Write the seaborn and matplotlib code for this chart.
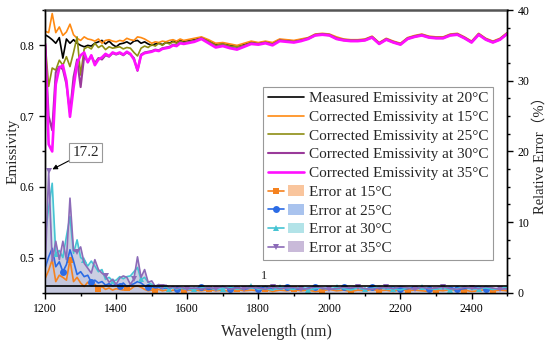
import numpy as np
import matplotlib
matplotlib.use('Agg')
import matplotlib.pyplot as plt
import seaborn as sns
from matplotlib.lines import Line2D
from matplotlib.patches import Patch
from matplotlib.legend_handler import HandlerTuple
from matplotlib.ticker import MultipleLocator

# wavelength grid (nm): 10 nm steps up to 1600, 20 nm steps after
wavelength = np.concatenate([np.arange(1200, 1601, 10), np.arange(1620, 2501, 20)])

# emissivity curves (left axis)
measured_20 = [0.815, 0.812, 0.808, 0.803, 0.811, 0.782, 0.809, 0.803, 0.808, 0.803,
               0.800, 0.798, 0.800, 0.799, 0.803, 0.805, 0.807, 0.802, 0.806, 0.801,
               0.798, 0.802, 0.803, 0.805, 0.802, 0.806, 0.807, 0.803, 0.805, 0.802,
               0.800, 0.802, 0.803, 0.801, 0.804, 0.803, 0.806, 0.804, 0.807, 0.805, 0.806,
               0.808, 0.811, 0.806, 0.801, 0.802, 0.800, 0.798, 0.801, 0.804, 0.803,
               0.805, 0.802, 0.808, 0.807, 0.806, 0.808, 0.810, 0.815, 0.816, 0.815,
               0.810, 0.808, 0.807, 0.807, 0.808, 0.812, 0.803, 0.809, 0.805, 0.802,
               0.810, 0.813, 0.815, 0.812, 0.811, 0.811, 0.815, 0.816, 0.811, 0.805,
               0.816, 0.809, 0.805, 0.809, 0.817]
corrected_15 = [0.820, 0.818, 0.845, 0.818, 0.826, 0.814, 0.819, 0.830, 0.815, 0.810,
                0.807, 0.812, 0.809, 0.808, 0.806, 0.809, 0.803, 0.807, 0.808, 0.806,
                0.805, 0.807, 0.806, 0.810, 0.808, 0.807, 0.812, 0.811, 0.809, 0.806,
                0.803, 0.805, 0.804, 0.806, 0.805, 0.807, 0.808, 0.806, 0.809, 0.807, 0.808,
                0.810, 0.812, 0.808, 0.803, 0.804, 0.802, 0.800, 0.803, 0.806, 0.804,
                0.806, 0.804, 0.809, 0.808, 0.807, 0.809, 0.811, 0.816, 0.817, 0.816,
                0.812, 0.809, 0.808, 0.808, 0.809, 0.813, 0.804, 0.810, 0.806, 0.803,
                0.811, 0.814, 0.816, 0.813, 0.812, 0.812, 0.816, 0.817, 0.812, 0.806,
                0.817, 0.810, 0.806, 0.810, 0.818]
corrected_25 = [0.805, 0.742, 0.768, 0.765, 0.779, 0.772, 0.784, 0.770, 0.790, 0.812,
                0.758, 0.795, 0.798, 0.795, 0.803, 0.797, 0.800, 0.794, 0.798, 0.796,
                0.797, 0.798, 0.795, 0.797, 0.796, 0.790, 0.785, 0.796, 0.799, 0.797,
                0.801, 0.799, 0.803, 0.800, 0.804, 0.802, 0.805, 0.803, 0.806, 0.804, 0.805,
                0.807, 0.810, 0.806, 0.800, 0.802, 0.799, 0.798, 0.800, 0.804, 0.802,
                0.804, 0.802, 0.807, 0.806, 0.805, 0.807, 0.809, 0.814, 0.815, 0.814,
                0.809, 0.807, 0.806, 0.806, 0.807, 0.811, 0.802, 0.808, 0.804, 0.801,
                0.809, 0.812, 0.814, 0.811, 0.810, 0.810, 0.814, 0.815, 0.810, 0.804,
                0.815, 0.808, 0.804, 0.808, 0.816]
corrected_30 = [0.800, 0.700, 0.680, 0.762, 0.770, 0.766, 0.745, 0.705, 0.755, 0.780,
                0.741, 0.785, 0.777, 0.785, 0.775, 0.782, 0.780, 0.786, 0.784, 0.789,
                0.787, 0.789, 0.786, 0.790, 0.787, 0.782, 0.764, 0.787, 0.790, 0.791,
                0.792, 0.794, 0.793, 0.796, 0.797, 0.798, 0.801, 0.800, 0.804, 0.803, 0.804,
                0.806, 0.810, 0.804, 0.798, 0.800, 0.797, 0.795, 0.799, 0.803, 0.802,
                0.804, 0.801, 0.807, 0.806, 0.805, 0.807, 0.810, 0.815, 0.816, 0.815,
                0.810, 0.808, 0.807, 0.807, 0.808, 0.812, 0.803, 0.809, 0.805, 0.802,
                0.810, 0.813, 0.815, 0.812, 0.811, 0.811, 0.815, 0.816, 0.811, 0.805,
                0.816, 0.809, 0.805, 0.809, 0.817]
corrected_35 = [0.802, 0.660, 0.650, 0.745, 0.768, 0.772, 0.750, 0.699, 0.740, 0.775,
                0.786, 0.790, 0.776, 0.786, 0.772, 0.780, 0.783, 0.788, 0.785, 0.790,
                0.788, 0.790, 0.787, 0.791, 0.788, 0.780, 0.765, 0.786, 0.789, 0.790,
                0.791, 0.793, 0.792, 0.795, 0.796, 0.797, 0.800, 0.799, 0.803, 0.802, 0.803,
                0.805, 0.809, 0.803, 0.797, 0.799, 0.796, 0.794, 0.798, 0.802, 0.801,
                0.803, 0.800, 0.806, 0.805, 0.804, 0.806, 0.809, 0.814, 0.815, 0.814,
                0.809, 0.807, 0.806, 0.806, 0.807, 0.811, 0.802, 0.808, 0.804, 0.801,
                0.809, 0.812, 0.814, 0.811, 0.810, 0.810, 0.814, 0.815, 0.810, 0.804,
                0.815, 0.808, 0.804, 0.808, 0.816]

# relative errors in % (right axis)
error_15 = [2.0, 3.2, 4.7, 1.6, 2.5, 2.2, 1.8, 4.7, 1.6, 2.2,
            1.4, 0.9, 1.5, 1.0, 1.2, 0.6, 0.9, 0.5, 0.7, 0.4,
            0.6, 0.5, 0.4, 0.7, 0.5, 0.9, 1.0, 0.8, 0.5, 0.3,
            0.4, 0.3, 0.5, 0.3, 0.4, 0.2, 0.4, 0.3, 0.5, 0.3, 0.4,
            0.4, 0.3, 0.5, 0.3, 0.4, 0.2, 0.5, 0.3, 0.4, 0.3,
            0.5, 0.2, 0.4, 0.3, 0.5, 0.3, 0.4, 0.2, 0.3, 0.5,
            0.3, 0.4, 0.2, 0.4, 0.3, 0.5, 0.3, 0.4, 0.2, 0.5,
            0.3, 0.4, 0.3, 0.2, 0.4, 0.3, 0.5, 0.3, 0.4, 0.2,
            0.3, 0.5, 0.3, 0.4, 0.3]
error_25 = [3.5, 5.1, 6.3, 3.7, 4.4, 3.0, 4.0, 6.1, 4.5, 2.6,
            3.0, 2.3, 2.5, 1.5, 1.8, 1.4, 1.6, 1.1, 1.3, 1.0,
            1.2, 1.0, 1.4, 0.9, 1.1, 1.3, 1.6, 1.4, 1.0, 0.8,
            0.9, 0.7, 0.8, 0.6, 0.7, 0.6, 0.8, 0.5, 0.7, 0.6, 0.7,
            0.6, 0.8, 0.5, 0.7, 0.9, 0.6, 0.8, 0.5, 0.7, 0.6,
            0.9, 0.5, 0.7, 0.8, 0.6, 0.5, 0.7, 0.9, 0.6, 0.7,
            0.5, 0.8, 0.6, 0.7, 0.5, 0.9, 0.6, 0.7, 0.8, 0.5,
            0.6, 0.8, 0.7, 0.5, 0.7, 0.6, 0.8, 0.5, 0.6, 0.7,
            0.9, 0.6, 0.5, 0.7, 0.6]
error_30 = [8.0, 12.0, 15.5, 5.5, 6.0, 5.0, 8.0, 10.8, 5.6, 7.5,
            5.0, 4.6, 3.8, 4.5, 3.8, 3.0, 3.3, 1.9, 2.2, 1.7,
            1.8, 2.3, 2.0, 2.3, 2.4, 3.0, 3.6, 1.9, 2.2, 1.5,
            1.2, 1.0, 1.1, 0.7, 0.9, 0.6, 0.8, 0.5, 0.7, 0.6, 0.5,
            0.5, 0.7, 0.9, 0.4, 0.6, 0.8, 0.5, 0.7, 1.0, 0.5,
            0.6, 0.4, 0.8, 0.6, 0.5, 0.9, 0.4, 0.6, 0.7, 0.5,
            0.8, 0.6, 0.4, 0.7, 0.5, 0.6, 0.9, 0.5, 0.6, 0.4,
            0.7, 0.5, 0.8, 0.6, 0.5, 0.7, 0.4, 0.6, 0.9, 0.5,
            0.6, 0.7, 0.5, 0.6, 0.8]
error_35 = [3.0, 17.2, 4.5, 7.3, 4.7, 7.3, 4.7, 13.4, 6.0, 5.8,
            6.5, 4.2, 3.5, 2.8, 4.7, 3.3, 2.8, 2.4, 1.5, 1.9,
            1.2, 2.1, 2.4, 2.2, 1.2, 2.0, 5.1, 2.2, 3.3, 1.5,
            1.7, 0.9, 1.2, 0.8, 1.1, 0.7, 0.9, 0.6, 0.8, 0.7, 0.6,
            0.7, 0.5, 0.8, 0.6, 0.9, 0.5, 0.7, 0.6, 0.8, 0.7,
            0.5, 0.9, 0.6, 0.7, 0.8, 0.5, 0.6, 0.9, 0.7, 0.5,
            0.6, 0.8, 0.7, 0.9, 0.6, 0.5, 0.7, 0.8, 0.6, 0.9,
            0.7, 0.5, 0.8, 0.6, 0.7, 0.9, 0.6, 0.5, 0.8, 0.7,
            0.6, 0.9, 0.7, 0.5, 0.6]

emis_labels = ['Measured Emissivity at 20°C', 'Corrected Emissivity at 15°C',
               'Corrected Emissivity at 25°C', 'Corrected Emissivity at 30°C',
               'Corrected Emissivity at 35°C']
err_labels = ['Error at 15°C', 'Error at 25°C', 'Error at 30°C', 'Error at 35°C']

sns.set_theme(style='ticks')
plt.rcParams['font.family'] = ['Liberation Serif', 'Noto Sans CJK SC']

fig, ax = plt.subplots(figsize=(5.5, 3.45), dpi=100)
fig.subplots_adjust(left=0.082, right=0.922, top=0.971, bottom=0.151)
ax2 = ax.twinx()

# emissivity lines
emis_series = [measured_20, corrected_15, corrected_25, corrected_30, corrected_35]
emis_colors = ['black', '#FF8A12', '#8E8E14', '#9A3A9A', '#FF10FF']
emis_lw = [1.2, 1.2, 1.2, 1.5, 1.9]
handles = []
for y, c, lw in zip(emis_series, emis_colors, emis_lw):
    sns.lineplot(x=wavelength, y=y, ax=ax, color=c, lw=lw)
    handles.append(Line2D([], [], color=c, lw=lw))

# error lines with filled areas
err_series = [error_15, error_25, error_30, error_35]
err_colors = ['#F5821F', '#2B6BE5', '#46C4D3', '#8C6BB8']
fill_colors = ['#F9C59D', '#A9C3EE', '#B2E3E8', '#C9BAD9']
markers = ['s', 'o', '^', 'v']
starts = [1270, 1250, 1230, 1210]
for y, c, fc in zip(err_series, err_colors, fill_colors):
    ax2.fill_between(wavelength, 0, y, color=fc, alpha=0.6, lw=0)
for y, c, fc, m, s in zip(err_series, err_colors, fill_colors, markers, starts):
    idx = sorted(set(int(np.argmin(np.abs(wavelength - t))) for t in np.arange(s, 2500, 80)))
    sns.lineplot(x=wavelength, y=y, ax=ax2, color=c, lw=1.2, marker=m,
                 markersize=5, markeredgewidth=0, markevery=idx)
    handles.append((Line2D([], [], color=c, lw=1.2, marker=m, markersize=5,
                           markeredgewidth=0), Patch(facecolor=fc, edgecolor='none')))

# 1 % reference line
ax2.axhline(1, color='black', lw=1.2)
ax2.text(1815, 1.5, '1', fontsize=9, ha='center', va='bottom')

ax2.annotate('17.2', xy=(1210, 17.2), xytext=(1314, 19.9), fontsize=11,
             ha='center', va='center',
             bbox=dict(boxstyle='square,pad=0.2', fc='white', ec='#999999', lw=0.8),
             arrowprops=dict(arrowstyle='-|>', color='black', lw=0.8,
                             shrinkA=0, shrinkB=3, mutation_scale=7))

ax.set_xlim(1200, 2500)
ax.set_ylim(0.45, 0.85)
ax2.set_ylim(0, 40)
ax.xaxis.set_major_locator(MultipleLocator(200))
ax.xaxis.set_minor_locator(MultipleLocator(100))
ax.yaxis.set_major_locator(MultipleLocator(0.1))
ax.yaxis.set_minor_locator(MultipleLocator(0.05))
ax2.yaxis.set_major_locator(MultipleLocator(10))
ax2.yaxis.set_minor_locator(MultipleLocator(2.5))
for a in (ax, ax2):
    a.tick_params(which='major', direction='out', length=4, width=1, labelsize=8.5,
                  color='black', labelcolor='black')
    a.tick_params(which='minor', direction='out', length=2, width=1, color='black')
    for sp in a.spines.values():
        sp.set_color('black')
        sp.set_linewidth(1)
ax.spines['top'].set_color('#555555')
ax.spines['top'].set_linewidth(1.8)
ax2.spines['top'].set_visible(False)

ax.set_xlabel('Wavelength (nm)', fontsize=11.5, labelpad=6)
ax.set_ylabel('Emissivity', fontsize=11)
ax2.set_ylabel('Relative Error（%）', fontsize=10.5, rotation=90)
ax.yaxis.set_label_coords(-0.056, 0.5)
ax2.yaxis.set_label_coords(1.055, 0.5)

labels = emis_labels + err_labels
leg = ax2.legend(handles, labels, loc='upper left', bbox_to_anchor=(0.472, 0.728),
                 borderaxespad=0, fontsize=11, frameon=True, fancybox=False,
                 framealpha=1, edgecolor='#999999', handlelength=2.4,
                 handletextpad=0.3, labelspacing=0.33, borderpad=0.3,
                 handler_map={tuple: HandlerTuple(ndivide=None, pad=0.3)})
leg.get_frame().set_linewidth(0.8)

plt.savefig('out.png', dpi=100)
